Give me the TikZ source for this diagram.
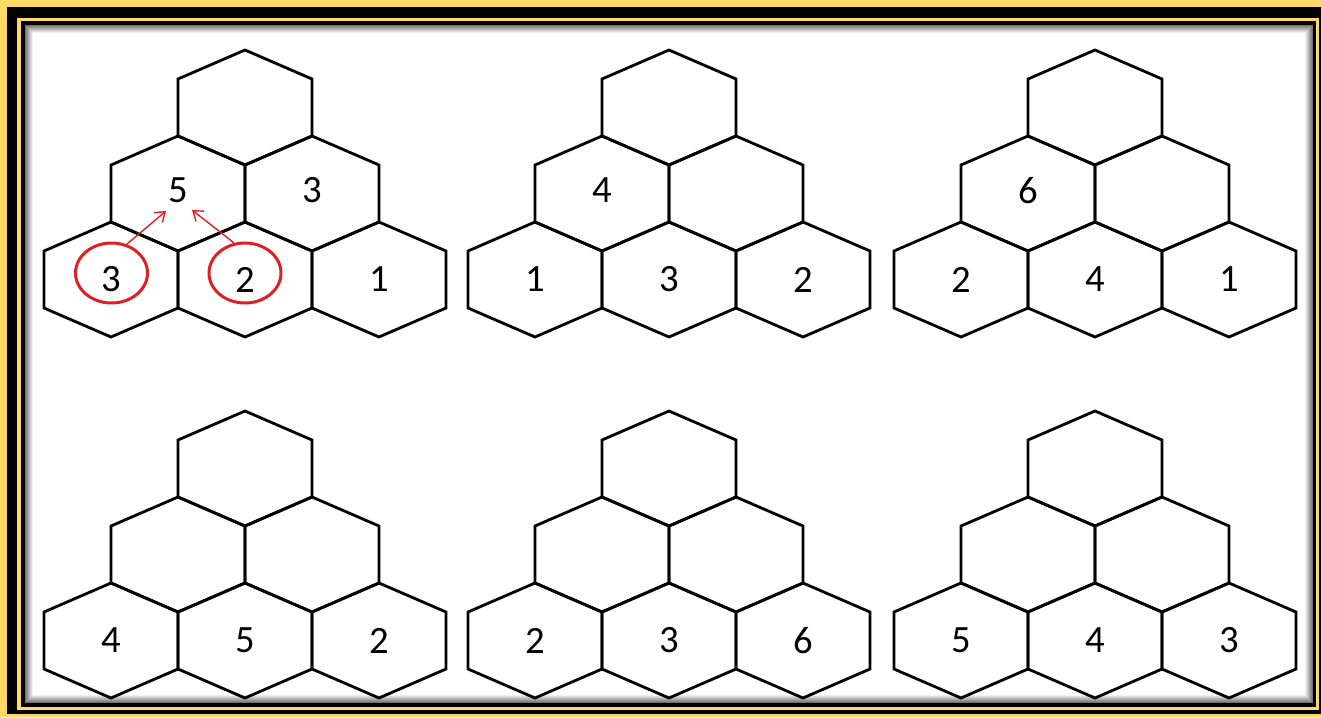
\documentclass[tikz,border=0pt]{standalone}
\usepackage{fontspec}
\setmainfont{Carlito}
\usepackage{tikz}
\usetikzlibrary{arrows.meta,shapes.geometric,calc}
\usepackage{xcolor}
\definecolor{FrameYel}{RGB}{255,217,102}
\definecolor{MarkRed}{RGB}{225,30,35}

\begin{document}
\begin{tikzpicture}[x=0.02cm, y=-0.02cm,
  hexline/.style={draw=black, line width=1.6pt, line join=miter},
  num/.style={inner sep=0pt, font=\fontsize{22}{26}\selectfont},
  ring/.style={draw=MarkRed, ellipse, line width=1.7pt, minimum width=1.44cm, minimum height=1.2cm, inner sep=0pt},
  tip/.style={draw=MarkRed, line width=0.8pt, -{Straight Barb[length=1.8mm,width=2.6mm]}},
  hexcell/.pic={\draw[hexline] (0,-57.5) -- (67,-28.5) -- (67,28.5) -- (0,57.5) -- (-67,28.5) -- (-67,-28.5) -- cycle;}]
\useasboundingbox (0,0) rectangle (1322,717);
% frame
\fill[FrameYel] (0,0) rectangle (1322,717);
\fill[black] (7,7) rectangle (1321,714);
\fill[FrameYel] (17,18) rectangle (1319,710);
\fill[black] (21,21) rectangle (1316,707);
\fill[white] (25,25) rectangle (1313,703);
\foreach \i in {0,...,7}
  \draw[black, line width=0.6pt, opacity={0.55-0.07*\i}] ($(25.5,25.5)+(\i,\i)$) rectangle ($(1312.5,702.5)-(\i,\i)$);
% six pyramids of hexagons
\foreach \px/\py/\nm/\ml/\mr/\ba/\bb/\bc in {245/107.5/a/5/3/3/2/1, 669/107.5/b/4/{}/1/3/2, 1095/107.5/c/6/{}/2/4/1,
    245/468.5/d/{}/{}/4/5/2, 669/468.5/e/{}/{}/2/3/6, 1095/468.5/f/{}/{}/5/4/3}{
  \foreach \dx/\dy in {0/0, -67/86, 67/86, -134/172, 0/172, 134/172}
    \pic at (\px+\dx,\py+\dy) {hexcell};
  \node[num] (\nm t)  at (\px,\py) {};
  \node[num] (\nm ml) at (\px-67,\py+83) {\ml};
  \node[num] (\nm mr) at (\px+67,\py+83) {\mr};
  \node[num] (\nm bl) at (\px-134,\py+172) {\ba};
  \node[num] (\nm bm) at (\px,\py+172) {\bb};
  \node[num] (\nm br) at (\px+134,\py+172) {\bc};
}
% worked example
\node[ring] (ringL) at (111.5,273) {};
\node[ring] (ringM) at (245,273) {};
\coordinate (aL) at (166,211);
\coordinate (aM) at (192,210);
\draw[tip] (ringL.62) -- (aL);
\draw[tip] (ringM.110) -- (aM);
\end{tikzpicture}
\end{document}
